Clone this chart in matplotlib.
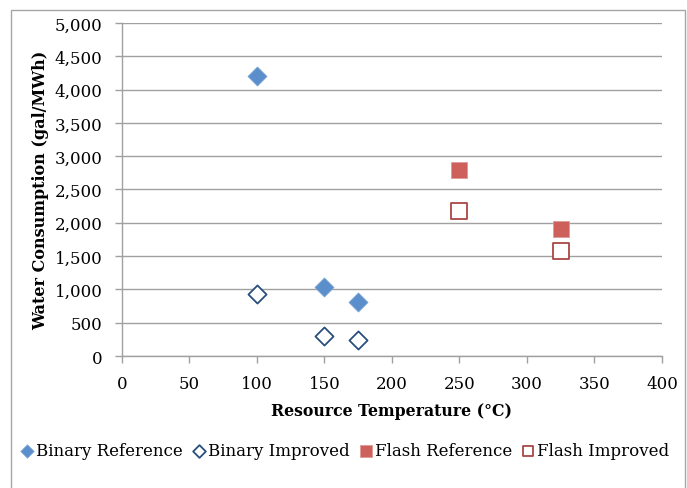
import matplotlib
matplotlib.use("Agg")
import matplotlib.pyplot as plt
from matplotlib.patches import Rectangle
from matplotlib.ticker import FuncFormatter, MultipleLocator

plt.rcParams['font.family'] = ['DejaVu Serif']

binary_ref_x = [100, 150, 175]
binary_ref_y = [4200, 1030, 810]
binary_imp_x = [100, 150, 175]
binary_imp_y = [930, 300, 240]
flash_ref_x = [250, 325]
flash_ref_y = [2800, 1900]
flash_imp_x = [250, 325]
flash_imp_y = [2170, 1570]

fig = plt.figure(figsize=(6.87, 4.89), dpi=100)
ax = fig.add_axes([122/687, (489-357)/489, 540/687, 333/489])

fig.patches.append(Rectangle((11/687, -0.01), (685-11)/687, (489-11)/489 + 0.01,
                             transform=fig.transFigure, fill=False,
                             edgecolor='#a6a6a6', linewidth=1.0))

ax.scatter(binary_ref_x, binary_ref_y, marker='D', s=95, color='#5b8fcb',
           edgecolors='#7fa6d6', linewidths=0.5, label='Binary Reference', zorder=3)
ax.scatter(binary_imp_x, binary_imp_y, marker='D', s=85, facecolors='white',
           edgecolors='#284f7c', linewidths=1.3, label='Binary Improved', zorder=3)
ax.scatter(flash_ref_x, flash_ref_y, marker='s', s=140, color='#cd605b',
           edgecolors='#e09a96', linewidths=0.6, label='Flash Reference', zorder=3)
ax.scatter(flash_imp_x, flash_imp_y, marker='s', s=125, facecolors='white',
           edgecolors='#a84844', linewidths=1.3, label='Flash Improved', zorder=3)

ax.set_xlim(0, 400)
ax.set_ylim(0, 5000)
ax.xaxis.set_major_locator(MultipleLocator(50))
ax.yaxis.set_major_locator(MultipleLocator(500))
ax.yaxis.set_major_formatter(FuncFormatter(lambda v, p: f"{int(v):,}"))

ax.grid(axis='y', color='#a0a0a0', linewidth=1.0)
ax.set_axisbelow(True)
for s in ['top', 'right']:
    ax.spines[s].set_visible(False)
for s in ['left', 'bottom']:
    ax.spines[s].set_color('#a0a0a0')
    ax.spines[s].set_linewidth(1.0)
ax.tick_params(axis='both', colors='#a0a0a0', labelcolor='black', labelsize=12,
               length=5, width=1.0, direction='out')
ax.tick_params(axis='y', pad=9)
ax.tick_params(axis='x', pad=9)

ax.set_xlabel('Resource Temperature (°C)', fontsize=11.3, fontweight='bold', labelpad=7)
ax.set_ylabel('Water Consumption (gal/MWh)', fontsize=11.5, fontweight='bold', labelpad=4)

fig.legend(loc='center', bbox_to_anchor=(0.5, (489-452)/489), ncol=4, frameon=False,
           fontsize=12, handletextpad=0.0, columnspacing=0.4, handlelength=1.1,
           markerscale=0.7)

fig.savefig('out.png', dpi=100)
